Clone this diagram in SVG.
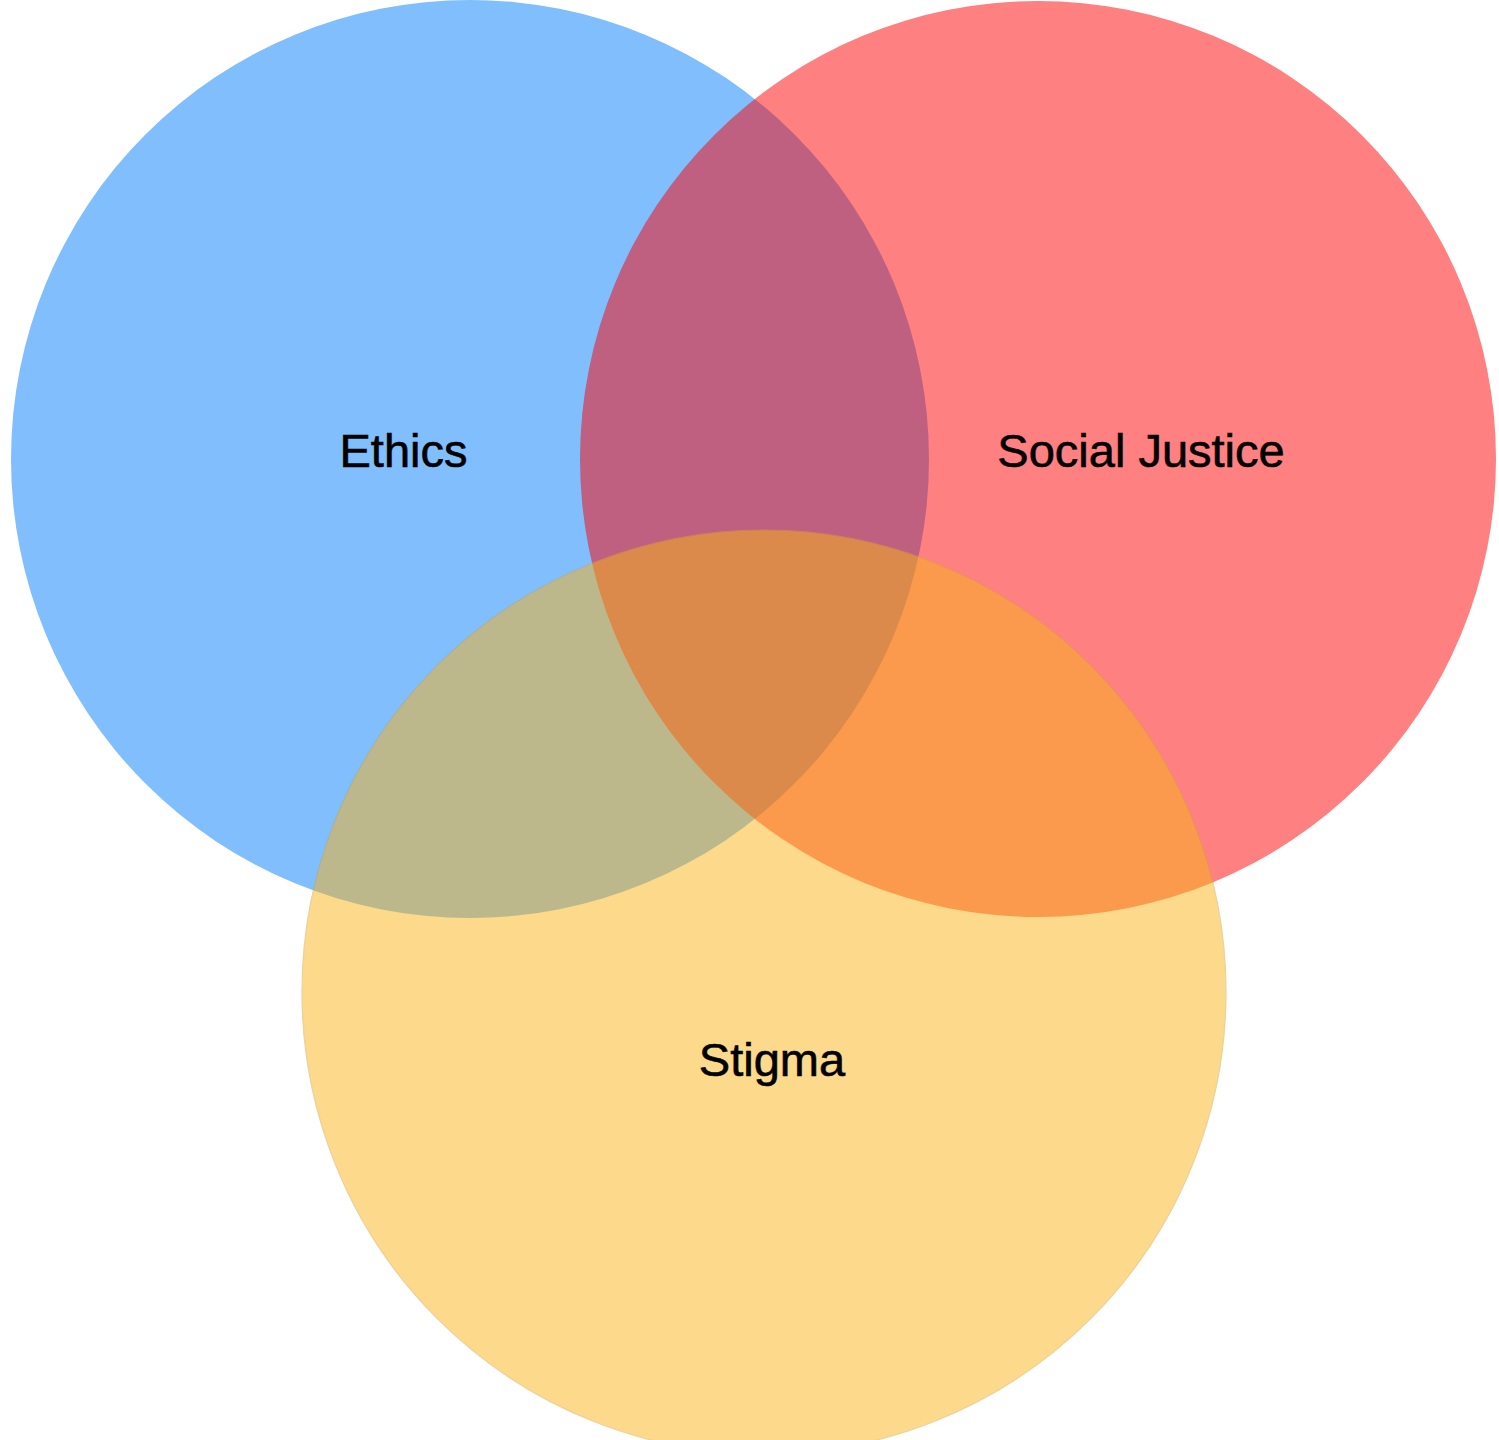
<svg xmlns="http://www.w3.org/2000/svg" width="1499" height="1440" viewBox="0 0 1499 1440">
  <style>
    .set { opacity: 0.5; }
    .label { font-family: "Liberation Sans", Arial, Helvetica, sans-serif; font-size: 47px; fill: #000000; stroke: #000000; stroke-width: 0.6; text-anchor: middle; }
  </style>
  <rect width="1499" height="1440" fill="#ffffff"/>
  <g id="ethics">
    <circle class="set" cx="470" cy="459" r="459" fill="#017dfd"/>
  </g>
  <g id="social-justice">
    <circle class="set" cx="1038" cy="459" r="458" fill="#fd0101"/>
  </g>
  <g id="stigma">
    <circle class="set" cx="764" cy="992" r="462" fill="#fab41a" stroke="#d6a636" stroke-width="1.2"/>
  </g>
  <g id="connectors"></g>
  <g id="labels">
    <text class="label" x="403.5" y="467">Ethics</text>
    <text class="label" x="1141" y="467">Social Justice</text>
    <text class="label" x="772" y="1076">Stigma</text>
  </g>
</svg>
